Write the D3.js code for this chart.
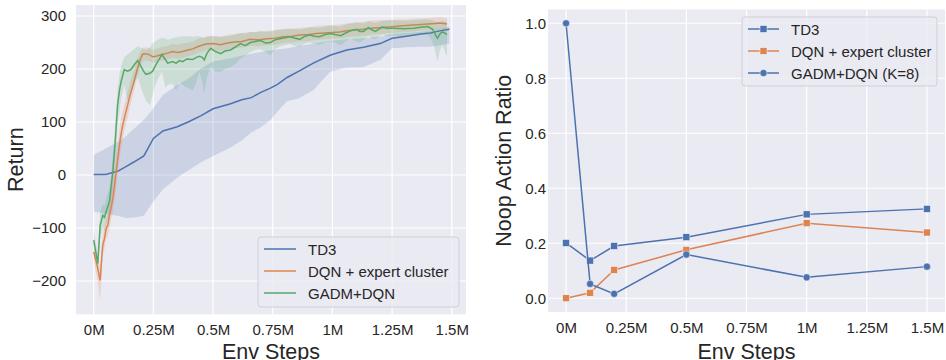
<!DOCTYPE html>
<html><head><meta charset="utf-8">
<script src="https://cdn.jsdelivr.net/npm/d3@7"></script>
<style>
body{margin:0;background:#fff;}
svg text{font-family:"Liberation Sans",Arial,sans-serif;fill:#262626;}
</style></head>
<body><svg id="c" width="946" height="360"></svg>
<script>
// ---------- Left chart data (Env steps in millions) ----------
const td3X    = [0,0.05,0.1,0.135,0.17,0.21,0.25,0.29,0.35,0.4,0.45,0.5,0.57,0.62,0.66,0.7,0.74,0.77,0.81,0.86,0.92,0.99,1.06,1.13,1.2,1.25,1.31,1.37,1.41,1.45,1.49];
const td3Mean = [1,1,7,16,25,36,69,83,91,101,112,125,134,142,146,156,164,171,184,196,211,226,236,241,248,258,262,266,268,272,275];
const td3Hi   = [38,50,62,73,88,104,126,151,170,183,201,214,220,225,229,232,235,237,239,243,248,253,256,258,261,266,268,270,272,276,280];
const td3Lo   = [-69,-73,-77,-81,-80,-77,-50,-27,-5,10,24,36,51,65,80,90,104,120,139,145,160,195,203,204,217,239,241,242,242,245,248];

const dqnX    = [0,0.014,0.027,0.033,0.038,0.045,0.052,0.059,0.066,0.073,0.08,0.087,0.094,0.101,0.108,0.115,0.122,0.132,0.142,0.152,0.163,0.173,0.184,0.195,0.205,0.219,0.233,0.247,0.261,0.275,0.29,0.31,0.33,0.35,0.373,0.395,0.415,0.44,0.47,0.5,0.53,0.56,0.59,0.62,0.656,0.69,0.725,0.76,0.794,0.83,0.863,0.9,0.932,0.966,1.0,1.03,1.06,1.1,1.13,1.16,1.19,1.22,1.25,1.28,1.31,1.34,1.37,1.4,1.43,1.45,1.465,1.48];
const dqnMean = [-145,-170,-199,-160,-132,-120,-101,-95,-76,-62,-44,-20,6,32,57,78,95,114,132,150,167,183,202,218,228,229,227,223,224,226,228,230,233,231,233,236,238,243,247,248,246,249,251,252,256,255,257,258,261,262,264,265,267,268,269,270,272,274,275,277,278,279,280,281,282,283,284,285,286,287,286,285];
const dqnLo   = [-160,-195,-237,-195,-150,-140,-122,-115,-100,-85,-70,-50,-25,5,30,50,70,90,108,128,148,166,185,203,214,216,215,212,213,215,216,218,221,219,221,224,226,231,235,236,234,237,239,240,244,243,245,246,249,250,252,253,255,256,257,258,260,262,263,265,266,267,268,269,270,271,272,273,274,275,274,273];
const dqnHi   = [-130,-150,-175,-135,-112,-100,-82,-72,-52,-38,-18,10,38,62,87,108,123,140,157,173,190,205,220,233,240,241,240,236,238,240,242,244,247,246,248,250,252,257,261,262,262,264,266,268,270,270,272,273,276,276,278,279,281,282,283,284,286,288,289,291,292,292,293,294,294,295,296,296,297,298,297,296];

const gadmX    = [0,0.017,0.027,0.038,0.045,0.052,0.066,0.08,0.091,0.1,0.108,0.115,0.128,0.142,0.156,0.17,0.184,0.198,0.21,0.219,0.235,0.247,0.258,0.268,0.286,0.3,0.31,0.33,0.345,0.36,0.373,0.39,0.415,0.43,0.443,0.455,0.463,0.475,0.49,0.51,0.532,0.55,0.573,0.595,0.615,0.635,0.656,0.677,0.698,0.72,0.74,0.76,0.78,0.8,0.822,0.845,0.863,0.885,0.905,0.925,0.946,0.97,0.988,1.01,1.035,1.055,1.076,1.1,1.115,1.13,1.15,1.165,1.18,1.208,1.23,1.26,1.3,1.34,1.37,1.4,1.42,1.43,1.44,1.45,1.46,1.47,1.48];
const gadmMean = [-123,-167,-95,-76,-80,-69,-50,6,69,132,160,177,199,196,199,208,216,205,195,190,192,196,206,214,227,218,211,214,211,216,214,219,218,222,224,222,217,230,239,233,229,234,236,242,248,244,250,252,254,249,250,255,257,259,261,258,256,262,264,262,261,265,267,265,263,268,272,275,271,271,278,274,271,279,277,277,276,277,279,280,275,266,258,266,270,268,265];
const gadmLo   = [-135,-178,-120,-100,-105,-95,-75,-25,35,95,120,145,170,140,160,175,185,165,150,140,132,150,170,180,195,165,170,172,160,175,170,165,160,175,195,175,154,185,205,195,195,200,204,210,220,225,232,236,238,232,226,238,242,245,247,243,241,248,250,248,246,250,252,250,245,252,258,252,250,255,262,258,256,265,262,263,262,263,266,265,250,235,214,235,245,235,223];
const gadmHi   = [-105,-150,-70,-55,-58,-45,-25,35,100,160,190,205,222,228,232,238,243,240,238,236,240,249,252,255,259,258,255,258,260,261,262,262,261,262,262,260,258,262,263,262,260,262,263,265,268,267,270,270,272,270,271,273,274,275,276,275,274,277,279,278,278,280,282,281,280,284,286,288,287,286,290,289,287,291,292,292,291,292,293,294,292,290,288,289,290,290,289];

const leftXTicks = [0,0.25,0.5,0.75,1,1.25,1.5];
const leftXLabels = ["0M","0.25M","0.5M","0.75M","1M","1.25M","1.5M"];
const leftYTicks = [-200,-100,0,100,200,300];
const leftLegend = ["TD3","DQN + expert cluster","GADM+DQN"];

// ---------- Right chart data ----------
const noopX = [0,0.1,0.2,0.5,1.0,1.5];
const td3Noop  = [0.201,0.137,0.19,0.222,0.305,0.325];
const dqnNoop  = [0.0,0.02,0.103,0.176,0.273,0.239];
const gadmNoop = [1.0,0.052,0.016,0.159,0.076,0.115];
const rightYTicks = [0,0.2,0.4,0.6,0.8,1.0];
const rightLegend = ["TD3","DQN + expert cluster","GADM+DQN (K=8)"];

const C = {blue:"#4C72B0", orange:"#DD8452", green:"#55A868", bg:"#EAEAF2"};
const svg = d3.select("#c");

function panel(o){
  const g = svg.append("g");
  g.append("rect").attr("x",o.x0).attr("y",o.y1).attr("width",o.x1-o.x0).attr("height",o.y0-o.y1).attr("fill",C.bg);
  const x = d3.scaleLinear().domain(o.xd).range([o.x0,o.x1]);
  const y = d3.scaleLinear().domain(o.yd).range([o.y0,o.y1]);
  // grid
  g.append("g").selectAll("line").data(o.xt).join("line")
    .attr("x1",d=>x(d)).attr("x2",d=>x(d)).attr("y1",o.y1).attr("y2",o.y0)
    .attr("stroke","#fff").attr("stroke-width",1.2);
  g.append("g").selectAll("line").data(o.yt).join("line")
    .attr("y1",d=>y(d)).attr("y2",d=>y(d)).attr("x1",o.x0).attr("x2",o.x1)
    .attr("stroke","#fff").attr("stroke-width",1.2);
  // axes
  const ax = g.append("g").attr("transform",`translate(0,${o.y0})`)
    .call(d3.axisBottom(x).tickValues(o.xt).tickFormat((d,i)=>o.xl[i]).tickSize(0).tickPadding(10));
  ax.select(".domain").remove();
  ax.selectAll("text").attr("font-size",15).attr("font-family","Liberation Sans, Arial, sans-serif").attr("fill","#262626");
  const ay = g.append("g").attr("transform",`translate(${o.x0},0)`)
    .call(d3.axisLeft(y).tickValues(o.yt).tickFormat(o.yf).tickSize(0).tickPadding(o.ypad));
  ay.select(".domain").remove();
  ay.selectAll("text").attr("font-size",15).attr("font-family","Liberation Sans, Arial, sans-serif").attr("fill","#262626");
  g.append("text").attr("x",(o.x0+o.x1)/2).attr("y",359).attr("text-anchor","middle").attr("font-size",21.5).text("Env Steps");
  g.append("text").attr("transform",`translate(${o.lx},${(o.y0+o.y1)/2}) rotate(-90)`).attr("text-anchor","middle").attr("font-size",21.5).text(o.ylab);
  return {g,x,y};
}

// Left panel
const L = panel({x0:76,x1:466,y0:314.3,y1:5,xd:[-0.0742,1.5596],yd:[-262.8,320.8],
  xt:leftXTicks,xl:leftXLabels,yt:leftYTicks,yf:d=>(d<0?"\u2212"+Math.abs(d):d),ypad:10,lx:23,ylab:"Return"});
const series = [
  {x:td3X,m:td3Mean,lo:td3Lo,hi:td3Hi,c:C.blue},
  {x:dqnX,m:dqnMean,lo:dqnLo,hi:dqnHi,c:C.orange},
  {x:gadmX,m:gadmMean,lo:gadmLo,hi:gadmHi,c:C.green}
];
series.forEach(s=>{
  const idx = d3.range(s.x.length);
  L.g.append("path").datum(idx)
    .attr("d",d3.area().x(i=>L.x(s.x[i])).y0(i=>L.y(s.lo[i])).y1(i=>L.y(s.hi[i])))
    .attr("fill",s.c).attr("fill-opacity",0.2);
  L.g.append("path").datum(idx)
    .attr("d",d3.line().x(i=>L.x(s.x[i])).y(i=>L.y(s.m[i])))
    .attr("fill","none").attr("stroke",s.c).attr("stroke-width",1.5);
});
// left legend
const lg = L.g.append("g");
lg.append("rect").attr("x",258).attr("y",237).attr("width",201).attr("height",70).attr("rx",3)
  .attr("fill",C.bg).attr("fill-opacity",0.8).attr("stroke","#cfcfd8").attr("stroke-width",1);
leftLegend.forEach((t,i)=>{
  const yy = 249+i*22;
  lg.append("line").attr("x1",264).attr("x2",296).attr("y1",yy).attr("y2",yy).attr("stroke",series[i].c).attr("stroke-width",1.5);
  lg.append("text").attr("x",308).attr("y",yy+5.5).attr("font-size",15).text(t);
});

// Right panel
const R = panel({x0:548,x1:945,y0:312,y1:9.5,xd:[-0.075,1.575],yd:[-0.05,1.05],
  xt:leftXTicks,xl:leftXLabels,yt:rightYTicks,yf:d3.format(".1f"),ypad:2,lx:511,ylab:"Noop Action Ratio"});
const rs = [
  {v:td3Noop,c:C.blue,shape:"sq"},
  {v:dqnNoop,c:C.orange,shape:"sq"},
  {v:gadmNoop,c:C.blue,shape:"ci"}
];
function marker(g,cx,cy,s){
  if(s.shape==="sq") g.append("rect").attr("x",cx-3.5).attr("y",cy-3.5).attr("width",7).attr("height",7).attr("fill",s.c).attr("stroke","#fff").attr("stroke-width",0.5);
  else g.append("circle").attr("cx",cx).attr("cy",cy).attr("r",3.6).attr("fill",s.c).attr("stroke","#fff").attr("stroke-width",0.5);
}
rs.forEach(s=>{
  R.g.append("path").datum(noopX.map((d,i)=>[d,s.v[i]]))
    .attr("d",d3.line().x(d=>R.x(d[0])).y(d=>R.y(d[1])))
    .attr("fill","none").attr("stroke",s.c).attr("stroke-width",1.5);
  noopX.forEach((d,i)=>marker(R.g,R.x(d),R.y(s.v[i]),s));
});
const rg = R.g.append("g");
rg.append("rect").attr("x",742).attr("y",17).attr("width",195).attr("height",69).attr("rx",3)
  .attr("fill",C.bg).attr("fill-opacity",0.8).attr("stroke","#cfcfd8").attr("stroke-width",1);
rightLegend.forEach((t,i)=>{
  const yy = 29+i*22;
  rg.append("line").attr("x1",748).attr("x2",779).attr("y1",yy).attr("y2",yy).attr("stroke",rs[i].c).attr("stroke-width",1.5);
  marker(rg,763.5,yy,rs[i]);
  rg.append("text").attr("x",791).attr("y",yy+5.5).attr("font-size",15).text(t);
});
</script></body></html>
